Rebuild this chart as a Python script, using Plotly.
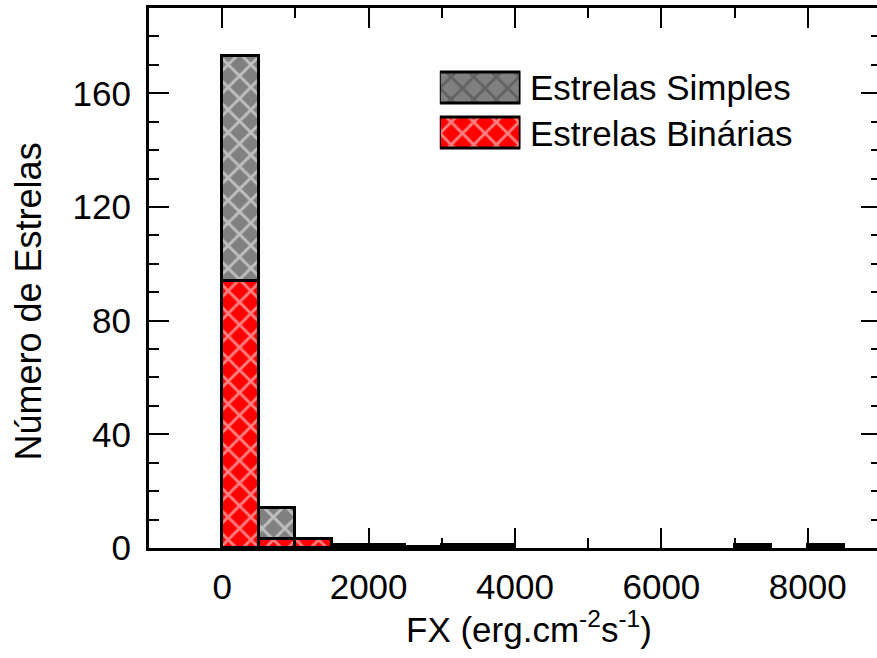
import plotly.graph_objects as go

# Histogram of X-ray flux, bins of 500 erg cm^-2 s^-1 starting at 0
bin_width = 500
bin_left = [0, 500, 1000, 1500, 2000, 2500, 3000, 3500, 4000, 4500,
            5000, 5500, 6000, 6500, 7000, 7500, 8000]
simples = [173, 14, 3, 1, 1, 0.5, 1, 1, 0, 0, 0, 0, 0, 0, 1, 0, 1]
binarias = [94, 3, 3, 0, 0, 0, 0, 0, 0, 0, 0, 0, 0, 0, 0, 0, 0]

series_names = ["Estrelas Simples", "Estrelas Binárias"]
series_colors = ["#808080", "#FF0000"]

x_ticks = [0, 2000, 4000, 6000, 8000]
y_ticks = [0, 40, 80, 120, 160]

FONT = "Liberation Sans, Arial, sans-serif"
PATTERN = dict(shape="x", fgcolor="white", size=16, solidity=0.33)

fig = go.Figure()

for name, vals, col in zip(series_names, [simples, binarias], series_colors):
    # empty bins are left out so no outline is drawn for them
    xs = [b + bin_width / 2 for b, v in zip(bin_left, vals) if v > 0]
    ys = [v for v in vals if v > 0]
    fig.add_trace(go.Bar(
        x=xs, y=ys, width=bin_width, name=name,
        marker=dict(color=col, line=dict(color="black", width=3),
                    pattern=dict(bgcolor=col, **PATTERN)),
        showlegend=False, hoverinfo="skip",
    ))

# legend swatches as patterned bars on a small hidden axis pair
fig.add_trace(go.Bar(
    y=[1, 0], x=[1, 1], base=0, orientation="h", width=0.69,
    marker=dict(color=series_colors,
                line=dict(color="black", width=3),
                pattern=dict(bgcolor=series_colors, **PATTERN)),
    xaxis="x2", yaxis="y2", showlegend=False, hoverinfo="skip",
))

axis_common = dict(
    showline=True, linecolor="black", linewidth=3, mirror="ticks",
    ticks="inside", ticklen=20, tickwidth=2, tickcolor="black",
    showgrid=False, zeroline=False,
    tickfont=dict(family=FONT, size=35, color="black"),
)

fig.update_layout(
    width=884, height=658,
    margin=dict(l=149, r=0, t=8, b=110, pad=0),
    paper_bgcolor="white", plot_bgcolor="white",
    barmode="overlay", bargap=0,
    font=dict(family=FONT, color="black"),
    xaxis=dict(range=[-1000, 9000], tickvals=x_ticks,
               minor=dict(dtick=1000, ticklen=10, tickwidth=2,
                          tickcolor="black", ticks="inside"),
               ticklabelstandoff=6, **axis_common),
    yaxis=dict(range=[0, 190], tickvals=y_ticks,
               minor=dict(dtick=10, ticklen=10, tickwidth=2,
                          tickcolor="black", ticks="inside"),
               ticklabelstandoff=8, **axis_common),
    xaxis2=dict(domain=[0.3973, 0.5075], range=[0, 1], visible=False,
                anchor="y2", fixedrange=True),
    yaxis2=dict(domain=[0.7269, 0.8935], range=[-0.5, 1.5], visible=False,
                anchor="x2", fixedrange=True),
    showlegend=False,
)

fig.add_annotation(text="Número de Estrelas", xref="paper", yref="paper",
                   x=-0.1646, y=0.4556, textangle=-90, showarrow=False,
                   xanchor="center", yanchor="middle",
                   font=dict(family=FONT, size=36, color="black"))
fig.add_annotation(text="FX (erg.cm<sup>-2</sup>s<sup>-1</sup>)",
                   xref="paper", yref="paper", x=0.5197, y=-0.146,
                   showarrow=False, xanchor="center", yanchor="middle",
                   font=dict(family=FONT, size=35, color="black"))

for name, ypos in zip(series_names, [0.8519, 0.7685]):
    fig.add_annotation(text=name, xref="paper", yref="paper", x=0.5184,
                       y=ypos, showarrow=False, xanchor="left",
                       yanchor="middle",
                       font=dict(family=FONT, size=35, color="black"))

fig.write_html("out.html", post_script="document.body.style.overflow='hidden';")
